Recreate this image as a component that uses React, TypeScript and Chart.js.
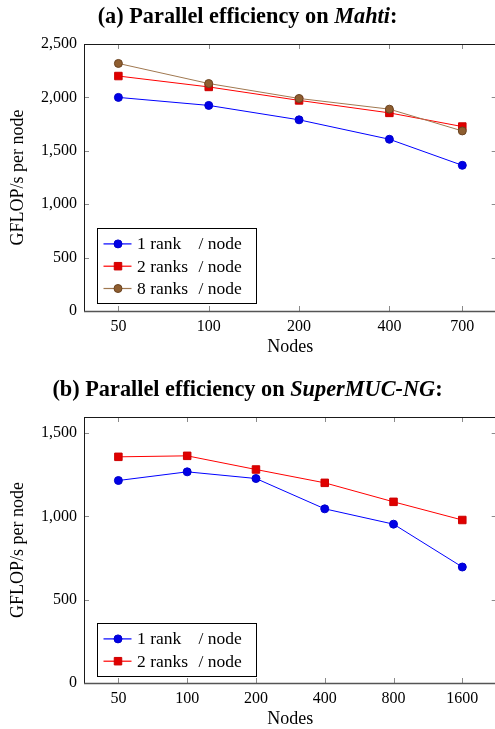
import React, { useEffect, useRef } from 'react';
import { Chart, registerables } from 'chart.js';
Chart.register(...registerables);

// ---- Data ----
const mahtiNodes = [50, 100, 200, 400, 700];
const mahti1 = [2000, 1925, 1790, 1608, 1364];
const mahti2 = [2200, 2098, 1972, 1855, 1727];
const mahti8 = [2318, 2130, 1990, 1890, 1686];
const mahtiYTicks = [0, 500, 1000, 1500, 2000, 2500];
const mahtiYMax = 2500;

const smucNodes = [50, 100, 200, 400, 800, 1600];
const smuc1 = [1215, 1267, 1227, 1045, 953, 696];
const smuc2 = [1357, 1363, 1281, 1201, 1087, 978];
const smucYTicks = [0, 500, 1000, 1500];
const smucYMax = 1596;

const label1 = '1 rank / node';
const label2 = '2 ranks / node';
const label8 = '8 ranks / node';

const SERIF = '"Liberation Serif", "Times New Roman", serif';

const BLUE = { line: '#0000ff', fill: '#0000e6', stroke: '#0000cc' };
const RED = { line: '#ff0000', fill: '#e00000', stroke: '#cc0000' };
const BROWN = { line: '#a07850', fill: '#8f5e30', stroke: '#6b4422' };

const CW = 503;

function series(nodes: number[], vals: number[], label: string, c: any, style: string, radius: number, order: number) {
  return {
    label,
    data: nodes.map((n, i) => ({ x: n, y: vals[i] })),
    borderColor: c.line,
    backgroundColor: c.fill,
    pointBackgroundColor: c.fill,
    pointBorderColor: c.stroke,
    pointBorderWidth: 1,
    pointStyle: style,
    pointRadius: radius,
    borderWidth: 1,
    tension: 0,
    fill: false,
    order,
  };
}

const framePlugin = {
  id: 'pgfFrame',
  afterDraw(chart: any) {
    const { ctx, chartArea: a, scales } = chart;
    ctx.save();
    // inward ticks on all four sides
    ctx.strokeStyle = '#8a8a8a';
    ctx.lineWidth = 1;
    const tl = 5;
    scales.x.ticks.forEach((t: any) => {
      const x = Math.round(scales.x.getPixelForValue(t.value)) + 0.5;
      ctx.beginPath();
      ctx.moveTo(x, a.bottom);
      ctx.lineTo(x, a.bottom - tl);
      ctx.moveTo(x, a.top);
      ctx.lineTo(x, a.top + tl);
      ctx.stroke();
    });
    scales.y.ticks.forEach((t: any) => {
      const y = Math.round(scales.y.getPixelForValue(t.value)) + 0.5;
      ctx.beginPath();
      ctx.moveTo(a.left, y);
      ctx.lineTo(a.left + tl, y);
      ctx.moveTo(a.right, y);
      ctx.lineTo(a.right - tl, y);
      ctx.stroke();
    });
    // frame
    ctx.strokeStyle = '#1a1a1a';
    ctx.lineWidth = 1;
    ctx.strokeRect(Math.round(a.left) + 0.5, Math.round(a.top) + 0.5, Math.round(a.right - a.left), Math.round(a.bottom - a.top));
    ctx.strokeStyle = '#555';
    ctx.lineWidth = 1.6;
    ctx.beginPath();
    ctx.moveTo(a.left, Math.round(a.bottom) + 0.5);
    ctx.lineTo(a.right, Math.round(a.bottom) + 0.5);
    ctx.stroke();

    // legend (pgfplots style, south west inside)
    const ds = chart.data.datasets;
    const n = ds.length;
    const x0 = Math.round(a.left + 13) + 0.5;
    const rowH = 22.3;
    const h = 15.4 + (n - 1) * rowH + 14.8;
    const w = 159;
    const y0 = Math.round(a.bottom - 8 - h) + 0.5;
    ctx.fillStyle = '#fff';
    ctx.fillRect(x0, y0, w, h);
    ctx.strokeStyle = '#000';
    ctx.lineWidth = 1;
    ctx.strokeRect(x0, y0, w, Math.round(h));
    ctx.font = '17.5px ' + SERIF;
    ctx.textBaseline = 'middle';
    ctx.textAlign = 'left';
    ds.forEach((d: any, i: number) => {
      const cy = y0 + 15.4 + i * rowH;
      ctx.strokeStyle = d.borderColor;
      ctx.lineWidth = 1.2;
      ctx.beginPath();
      ctx.moveTo(x0 + 6, cy);
      ctx.lineTo(x0 + 34, cy);
      ctx.stroke();
      const mx = x0 + 20.5;
      ctx.fillStyle = d.pointBackgroundColor;
      ctx.strokeStyle = d.pointBorderColor;
      ctx.lineWidth = 1;
      ctx.beginPath();
      if (d.pointStyle === 'rect') {
        const s = d.pointRadius * Math.SQRT1_2;
        ctx.rect(mx - s, cy - s, 2 * s, 2 * s);
      } else {
        ctx.arc(mx, cy, d.pointRadius, 0, Math.PI * 2);
      }
      ctx.fill();
      ctx.stroke();
      const parts = String(d.label).split(' / ');
      ctx.fillStyle = '#000';
      ctx.fillText(parts[0], x0 + 39.5, cy + 1);
      if (parts[1] !== undefined) ctx.fillText('/ ' + parts[1], x0 + 101, cy + 1);
    });
    ctx.restore();
  },
};

function makeConfig(nodes: number[], datasets: any[], yTicks: number[], yMax: number) {
  const lmin = Math.log10(nodes[0]);
  const lmax = Math.log10(nodes[nodes.length - 1]);
  const enl = (lmax - lmin) * 0.1;
  const tickFont = { family: SERIF, size: 16 };
  const titleFont = { family: SERIF, size: 18 };
  return {
    type: 'line',
    data: { datasets },
    options: {
      animation: false,
      responsive: false,
      maintainAspectRatio: false,
      layout: { padding: { top: 44, right: 0, left: 0, bottom: 0 } },
      plugins: { legend: { display: false }, tooltip: { enabled: false }, title: { display: false } },
      scales: {
        x: {
          type: 'logarithmic',
          min: Math.pow(10, lmin - enl),
          max: Math.pow(10, lmax + enl),
          afterBuildTicks: (s: any) => {
            s.ticks = nodes.map((v) => ({ value: v }));
          },
          afterFit: (s: any) => {
            s.height = 54;
            s.paddingLeft = 0;
            s.paddingRight = 0;
          },
          grid: { display: false, drawTicks: false },
          border: { display: false },
          ticks: {
            font: tickFont,
            color: '#000',
            padding: 6,
            autoSkip: false,
            maxRotation: 0,
            callback: (v: any) => String(v),
          },
          title: { display: true, text: 'Nodes', font: titleFont, color: '#000', padding: { top: 0, bottom: 7 } },
        },
        y: {
          type: 'linear',
          min: 0,
          max: yMax,
          afterBuildTicks: (s: any) => {
            s.ticks = yTicks.map((v) => ({ value: v }));
          },
          afterFit: (s: any) => {
            s.width = 84;
            s.paddingTop = 0;
            s.paddingBottom = 0;
          },
          grid: { display: false, drawTicks: false },
          border: { display: false },
          ticks: {
            font: tickFont,
            color: '#000',
            padding: 7,
            callback: (v: any) => Number(v).toLocaleString('en-US'),
          },
          title: { display: true, text: 'GFLOP/s per node', font: titleFont, color: '#000', padding: { top: 7, bottom: 0 } },
        },
      },
    },
    plugins: [framePlugin],
  };
}

export default function App() {
  const ref1 = useRef<HTMLCanvasElement>(null);
  const ref2 = useRef<HTMLCanvasElement>(null);
  useEffect(() => {
    const c1 = new Chart(
      ref1.current as HTMLCanvasElement,
      makeConfig(
        mahtiNodes,
        [
          series(mahtiNodes, mahti1, label1, BLUE, 'circle', 4, 3),
          series(mahtiNodes, mahti2, label2, RED, 'rect', 5.3, 2),
          series(mahtiNodes, mahti8, label8, BROWN, 'circle', 4, 1),
        ],
        mahtiYTicks,
        mahtiYMax
      ) as any
    );
    const c2 = new Chart(
      ref2.current as HTMLCanvasElement,
      makeConfig(
        smucNodes,
        [
          series(smucNodes, smuc1, label1, BLUE, 'circle', 4, 2),
          series(smucNodes, smuc2, label2, RED, 'rect', 5.3, 1),
        ],
        smucYTicks,
        smucYMax
      ) as any
    );
    return () => {
      c1.destroy();
      c2.destroy();
    };
  }, []);

  const titleStyle: React.CSSProperties = {
    position: 'absolute',
    left: 0,
    width: 495,
    textAlign: 'center',
    fontFamily: SERIF,
    fontWeight: 'bold',
    fontSize: 22.3,
    lineHeight: '24px',
    color: '#000',
    whiteSpace: 'nowrap',
  };

  return (
    <div style={{ position: 'absolute', left: 0, top: 0, width: 495, height: 729, overflow: 'hidden', background: '#fff' }}>
      <div style={{ position: 'absolute', left: 0, top: 0, width: CW, height: 365 }}>
        <canvas ref={ref1} width={CW} height={365} style={{ display: 'block', width: CW, height: 365 }} />
      </div>
      <div style={{ position: 'absolute', left: 0, top: 373, width: CW, height: 364 }}>
        <canvas ref={ref2} width={CW} height={364} style={{ display: 'block', width: CW, height: 364 }} />
      </div>
      <div style={{ ...titleStyle, top: 4 }}>
        (a) Parallel efficiency on <i>Mahti</i>:
      </div>
      <div style={{ ...titleStyle, top: 377 }}>
        (b) Parallel efficiency on <i>SuperMUC-NG</i>:
      </div>
    </div>
  );
}
